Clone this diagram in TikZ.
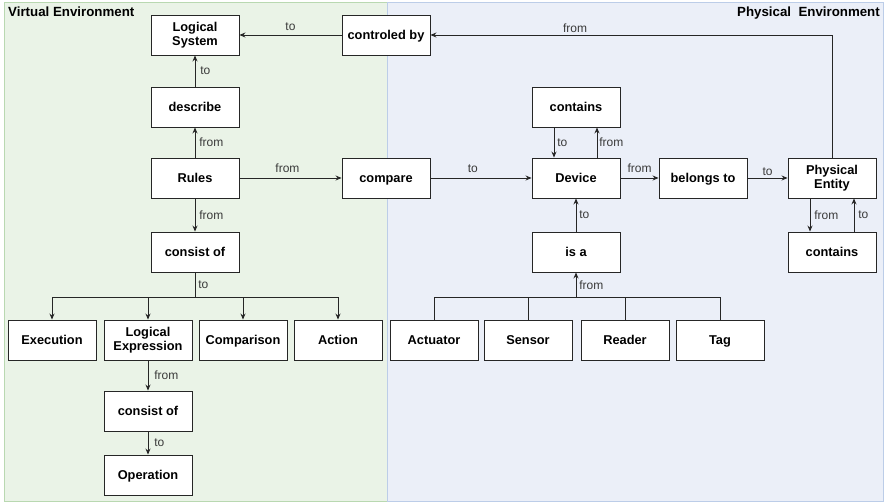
\documentclass[tikz,border=0pt]{standalone}
\usepackage{fontspec}
\setmainfont{Liberation Sans}
\usetikzlibrary{arrows.meta}
\definecolor{greenfill}{HTML}{EAF3E7}
\definecolor{greenline}{HTML}{B9D8B1}
\definecolor{bluefill}{HTML}{EBEFF8}
\definecolor{blueline}{HTML}{BCCDE8}
\definecolor{edgecol}{HTML}{262626}
\definecolor{labcol}{HTML}{3A3A3A}
\tikzset{
  box/.style={draw=edgecol, line width=0.9pt, fill=white, minimum width=88pt, minimum height=40pt,
    inner sep=1pt, align=center, text height=10.6pt, text depth=1.4pt,
    font=\fontsize{12.8}{14.5}\selectfont\bfseries},
  twoline/.style={text height={}, text depth={}},
  link/.style={draw=edgecol, line width=0.8pt, -{Stealth[length=6pt,width=5pt]}},
  plain/.style={draw=edgecol, line width=0.8pt},
  lab/.style={text=labcol, font=\fontsize{12}{14}\selectfont, inner sep=0pt},
  paneltitle/.style={font=\fontsize{13.3}{15}\selectfont\bfseries, inner sep=0pt},
}
\begin{document}
\begin{tikzpicture}[x=1pt, y=-1pt]
\useasboundingbox (0,0) rectangle (884,503);
% environment panels
\draw[fill=greenfill, draw=greenline, line width=0.8pt] (4,2) rectangle (387,501);
\draw[fill=bluefill, draw=blueline, line width=0.8pt] (387,2) rectangle (883,501);
\node[paneltitle, anchor=north west] (vtitle) at (8,7) {Virtual Environment};
\node[paneltitle, anchor=north east] (ptitle) at (880,7) {Physical\ \ Environment};

% virtual side
\node[box, twoline] (logsys) at (195,35) {Logical\\System};
\node[box] (ctrl) at (386,35) {controled by};
\node[box] (describe) at (195,107) {describe};
\node[box] (rules) at (195,178) {Rules};
\node[box] (compare) at (386,178) {compare};
\node[box] (consist) at (195,252) {consist of};
\node[box] (exec) at (52,340) {Execution};
\node[box, twoline] (logexp) at (148,340) {Logical\\Expression};
\node[box] (comparison) at (243,340) {Comparison};
\node[box] (action) at (338,340) {Action};
\node[box] (consist2) at (148,411) {consist of};
\node[box] (operation) at (148,475) {Operation};

% physical side
\node[box] (containsA) at (576,107) {contains};
\node[box] (device) at (576,178) {Device};
\node[box] (belongs) at (703,178) {belongs to};
\node[box, twoline] (pentity) at (832,178) {Physical\\Entity};
\node[box] (isa) at (576,252) {is a};
\node[box] (containsB) at (832,252) {contains};
\node[box] (actuator) at (434,340) {Actuator};
\node[box] (sensor) at (528,340) {Sensor};
\node[box] (reader) at (625,340) {Reader};
\node[box] (tag) at (720,340) {Tag};

% junction points
\coordinate (vjoin) at (195,297);
\coordinate (pjoin) at (576,297);

% connectors, virtual side
\draw[link] (ctrl) -- node[lab, above=4pt] {to} (logsys);
\draw[link] (describe) -- node[lab, right=5pt] {to} (logsys);
\draw[link] (rules) -- node[lab, right=4pt] {from} (describe);
\draw[link] (rules) -- node[lab, above=5pt, pos=0.47] {from} (compare);
\draw[link] (rules) -- node[lab, right=4pt, pos=0.5] {from} (consist);
\draw[plain] (consist.south) -- node[lab, right=3pt] {to} (vjoin);
\draw[plain] (exec.north |- vjoin) -- (action.north |- vjoin);
\draw[link] (exec.north |- vjoin) -- (exec.north);
\draw[link] (logexp.north |- vjoin) -- (logexp.north);
\draw[link] (comparison.north |- vjoin) -- (comparison.north);
\draw[link] (action.north |- vjoin) -- (action.north);
\draw[link] (logexp) -- node[lab, right=6pt] {from} (consist2);
\draw[link] (consist2) -- node[lab, right=6pt] {to} (operation);

% connectors, physical side
\draw[link] (compare) -- node[lab, above=5pt, pos=0.42] {to} (device);
\draw[link] ([xshift=-22pt]containsA.south) -- node[lab, right=3pt] {to} ([xshift=-22pt]device.north);
\draw[link] ([xshift=21pt]device.north) -- node[lab, right=2pt] {from} ([xshift=21pt]containsA.south);
\draw[link] (device) -- node[lab, above=5pt] {from} (belongs);
\draw[link] (belongs) -- node[lab, above=2pt] {to} (pentity);
\draw[link] (pentity.north) |- node[lab, above=2pt, pos=0.82] {from} (ctrl.east);
\draw[link] ([xshift=-22pt]pentity.south) -- node[lab, right=4pt] {from} ([xshift=-22pt]containsB.north);
\draw[link] ([xshift=22pt]containsB.north) -- node[lab, right=4pt] {to} ([xshift=22pt]pentity.south);
\draw[link] (isa) -- node[lab, right=3pt] {to} (device);
\draw[plain] (actuator.north |- pjoin) -- (tag.north |- pjoin);
\draw[plain] (actuator.north) -- (actuator.north |- pjoin);
\draw[plain] (sensor.north) -- (sensor.north |- pjoin);
\draw[plain] (reader.north) -- (reader.north |- pjoin);
\draw[plain] (tag.north) -- (tag.north |- pjoin);
\draw[link] (pjoin) -- node[lab, right=3pt] {from} (isa.south);
\end{tikzpicture}
\end{document}
